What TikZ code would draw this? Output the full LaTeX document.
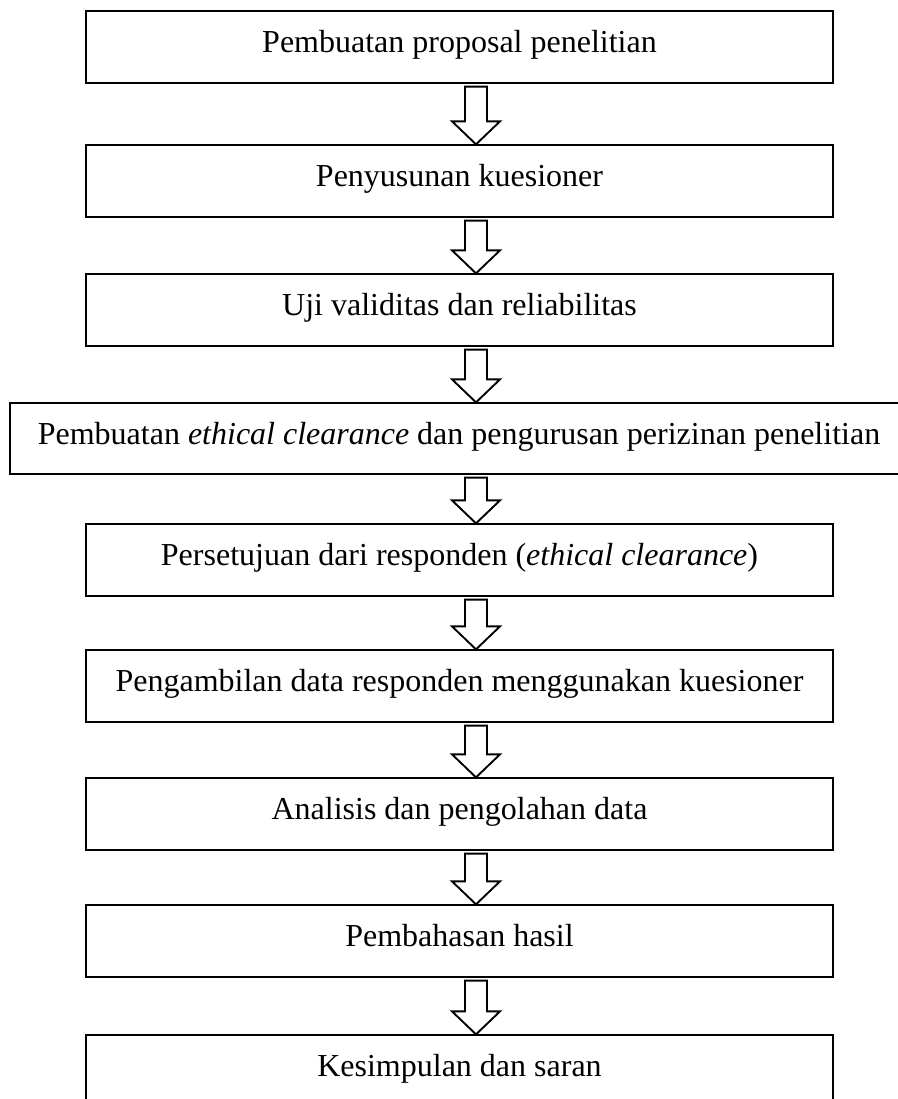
\documentclass[tikz,border=0pt]{standalone}
\usepackage{fontspec}
\setmainfont{Liberation Serif}
\usetikzlibrary{calc}
\tikzset{
  flowbox/.style={draw=black, line width=1.3pt, rectangle, minimum height=72pt,
    text height=22pt, text depth=11pt, inner sep=0pt,
    font=\fontsize{32}{38}\selectfont},
  blockarr/.style={draw=black, fill=white, line width=1.9pt, line join=miter}
}
\newcommand{\barrow}[2]{%
  \draw[blockarr] let \p1=(#1.south), \p2=(#2.north) in
    (465pt,\y1-3pt) -- (487pt,\y1-3pt) -- (487pt,\y2+23pt) -- (500pt,\y2+23pt)
    -- (476pt,\y2) -- (452pt,\y2+23pt) -- (465pt,\y2+23pt) -- cycle;}
\begin{document}
\begin{tikzpicture}[x=1pt,y=-1pt]
\useasboundingbox (0,0) rectangle (897,1099);
\fill[white] (0,0) rectangle (897,1099);
\node[flowbox, minimum width=747pt] (b1) at (459.5,47) {Pembuatan proposal penelitian};
\node[flowbox, minimum width=747pt] (b2) at (459.5,181) {Penyusunan kuesioner};
\node[flowbox, minimum width=747pt] (b3) at (459.5,310) {Uji validitas dan reliabilitas};
\node[flowbox, minimum width=898pt, minimum height=71pt] (b4) at (459,438.5) {Pembuatan \textit{ethical clearance} dan pengurusan perizinan penelitian};
\node[flowbox, minimum width=747pt] (b5) at (459.5,560) {Persetujuan dari responden (\textit{ethical clearance})};
\node[flowbox, minimum width=747pt] (b6) at (459.5,686) {Pengambilan data responden menggunakan kuesioner};
\node[flowbox, minimum width=747pt] (b7) at (459.5,814) {Analisis dan pengolahan data};
\node[flowbox, minimum width=747pt] (b8) at (459.5,941) {Pembahasan hasil};
\node[flowbox, minimum width=747pt] (b9) at (459.5,1071) {Kesimpulan dan saran};
\barrow{b1}{b2}
\barrow{b2}{b3}
\barrow{b3}{b4}
\barrow{b4}{b5}
\barrow{b5}{b6}
\barrow{b6}{b7}
\barrow{b7}{b8}
\barrow{b8}{b9}
\end{tikzpicture}
\end{document}
